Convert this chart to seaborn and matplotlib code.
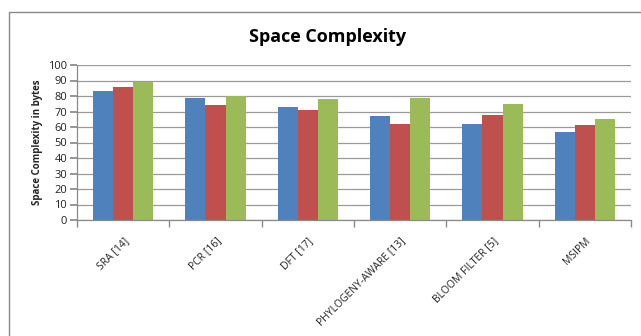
import matplotlib
matplotlib.use("Agg")
import matplotlib.pyplot as plt
import seaborn as sns
import pandas as pd
from matplotlib.patches import Rectangle

categories = ["SRA [14]", "PCR [16]", "DFT [17]", "PHYLOGENY-AWARE [13]", "BLOOM FILTER [5]", "MSIPM"]
series_names = ["Series1", "Series2", "Series3"]
series1 = [83, 79, 73, 67, 62, 57]
series2 = [86, 74, 71, 62, 68, 61]
series3 = [89, 80, 78, 79, 75, 65]
yticks = list(range(0, 101, 10))
colors = ["#4F81BD", "#C0504D", "#9BBB59"]

rows = []
for name, vals in zip(series_names, [series1, series2, series3]):
    for c, v in zip(categories, vals):
        rows.append({"Method": c, "Series": name, "Value": v})
df = pd.DataFrame(rows)

sns.set_theme(style="white")
plt.rcParams["font.family"] = ["Open Sans", "DejaVu Sans"]

fig = plt.figure(figsize=(6.41, 3.36), dpi=100)
ax = fig.add_axes([77 / 641, 1 - 220 / 336, (631 - 77) / 641, (220 - 65) / 336])

sns.barplot(data=df, x="Method", y="Value", hue="Series", order=categories,
            hue_order=series_names, palette=colors, width=0.65, gap=0,
            saturation=1, legend=False, ax=ax, errorbar=None, linewidth=0)

ax.set_ylim(0, 100)
ax.set_xlim(-0.5, len(categories) - 0.5)
ax.set_yticks(yticks)
ax.set_yticklabels([str(t) for t in yticks], fontsize=8, color="#222222")
ax.yaxis.grid(True, color="#9a9a9a", linewidth=0.9)
ax.set_axisbelow(True)
ax.set_xlabel("")
ax.set_ylabel("Space Complexity in bytes", fontsize=7, fontweight="bold", labelpad=4)

for s in ["top", "right"]:
    ax.spines[s].set_visible(False)
for s in ["left", "bottom"]:
    ax.spines[s].set_color("#8a8a8a")
    ax.spines[s].set_linewidth(0.9)

ax.tick_params(axis="y", which="both", left=True, length=5, color="#8a8a8a", pad=2)
ax.set_xticks(range(len(categories)))
ax.set_xticklabels(categories, rotation=45, ha="right", rotation_mode="anchor",
                   fontsize=7.5, color="#222222")
ax.tick_params(axis="x", which="major", bottom=False, pad=5)
ax.set_xticks([i + 0.5 for i in range(-1, len(categories))], minor=True)
ax.tick_params(axis="x", which="minor", bottom=True, length=5, color="#8a8a8a")

fig.text(328 / 641, 1 - 37 / 336, "Space Complexity", ha="center", va="center",
         fontsize=13, fontweight="bold", color="black")

fig.patches.append(Rectangle((9 / 641, -0.1), 1.5, 1 - 12 / 336 + 0.1,
                             transform=fig.transFigure, fill=False,
                             edgecolor="#8a8a8a", linewidth=1))

fig.savefig("out.png", dpi=100)
